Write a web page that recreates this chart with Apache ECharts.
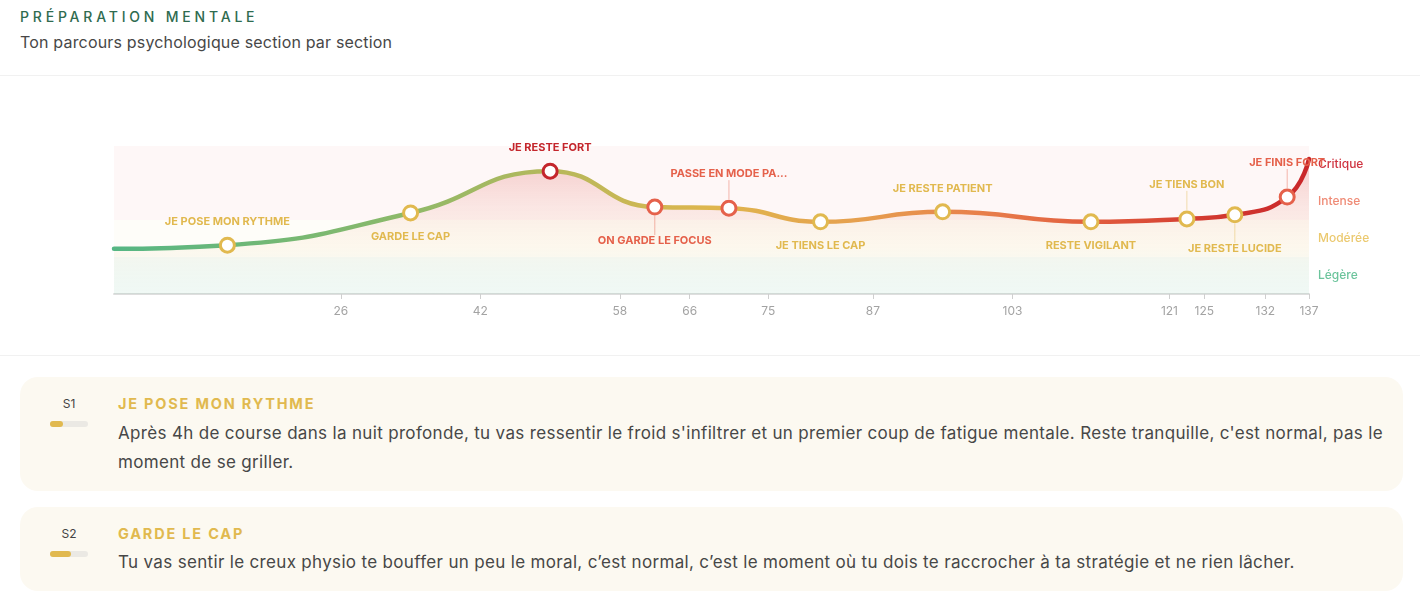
<!DOCTYPE html>
<html>
<head>
<meta charset="utf-8">
<script src="https://cdn.jsdelivr.net/npm/echarts@6/dist/echarts.min.js"></script>
<style>
  html, body { margin: 0; padding: 0; background: #fff; font-family: Inter, "Noto Sans", sans-serif; }
  body { width: 1420px; height: 598px; position: relative; overflow: hidden; }
  .kicker { position: absolute; left: 20px; top: 9px; font-size: 14px; line-height: 16px; letter-spacing: 3.8px; color: #2f6b4f; font-weight: 500; white-space: nowrap; }
  .sub { position: absolute; left: 20px; top: 32px; font-size: 16px; line-height: 20px; letter-spacing: 0.18px; color: #474747; white-space: nowrap; }
  .sep { position: absolute; left: 0; width: 1420px; height: 1px; background: #f1f1f1; }
  #chart { position: absolute; left: 0; top: 76px; width: 1420px; height: 279px; }
  #cards { position: absolute; left: 20px; top: 377px; width: 1383px; }
  .card { background: #fcf9f1; border-radius: 18px; padding: 17px 10px 14px 0; display: flex; margin-bottom: 16px; }
  .col { width: 38px; margin-left: 30px; margin-right: 30px; flex: none; text-align: center; }
  .sid { font-size: 12px; line-height: 20px; color: #444; }
  .track { margin-top: 7px; height: 6px; border-radius: 3px; background: #ebe9e4; position: relative; }
  .fill { position: absolute; left: 0; top: 0; height: 6px; border-radius: 3px; background: #e1b94f; }
  .txt { flex: 1; }
  .ttl { font-size: 14.5px; line-height: 20px; font-weight: 700; letter-spacing: 1.8px; color: #e1b94f; }
  .body { margin-top: 4.5px; font-size: 17px; line-height: 29px; letter-spacing: 0.33px; color: #474747; }
</style>
</head>
<body>
<div class="kicker">PRÉPARATION MENTALE</div>
<div class="sub">Ton parcours psychologique section par section</div>
<div class="sep" style="top:75px"></div>
<div id="chart"></div>
<div class="sep" style="top:355px"></div>
<div id="cards"></div>
<script>
// ---- data ----
const sectionEnds = [26, 42, 58, 66, 75, 87, 103, 121, 125, 132, 137];
const markerKm = [13, 34, 50, 62, 70.5, 81, 95, 112, 123, 128.5, 134.5];
const sectionNames = ['JE POSE MON RYTHME', 'GARDE LE CAP', 'JE RESTE FORT', 'ON GARDE LE FOCUS', 'PASSE EN MODE PA...', 'JE TIENS LE CAP', 'JE RESTE PATIENT', 'RESTE VIGILANT', 'JE TIENS BON', 'JE RESTE LUCIDE', 'JE FINIS FORT'];
const sectionIntensity = [1.32, 2.19, 3.32, 2.35, 2.32, 1.95, 2.22, 1.95, 2.03, 2.14, 2.62];
const sectionLevel = ['moderee', 'moderee', 'critique', 'intense', 'intense', 'moderee', 'moderee', 'moderee', 'moderee', 'moderee', 'intense'];
const startIntensity = 1.22;
const endIntensity = 3.65;
const totalKm = 137;
const levelLabels = ['Légère', 'Modérée', 'Intense', 'Critique'];
const cardIds = ['S1', 'S2'];
const cardTitles = ['JE POSE MON RYTHME', 'GARDE LE CAP'];
const cardTexts = [
  "Après 4h de course dans la nuit profonde, tu vas ressentir le froid s'infiltrer et un premier coup de fatigue mentale. Reste tranquille, c'est normal, pas le moment de se griller.",
  "Tu vas sentir le creux physio te bouffer un peu le moral, c’est normal, c’est le moment où tu dois te raccrocher à ta stratégie et ne rien lâcher."
];

// ---- styles ----
const levelColor = { moderee: '#e1b94f', intense: '#e5614b', critique: '#c4262c' };
const axisLabelColors = ['#6cc49c', '#ebc96f', '#ef8b76', '#cf3441'];

// cards
const cardsEl = document.getElementById('cards');
cardIds.forEach((id, i) => {
  const c = document.createElement('div');
  c.className = 'card';
  const pct = sectionIntensity[i] / 4 * 100;
  c.innerHTML = '<div class="col"><div class="sid">' + id + '</div><div class="track"><div class="fill" style="width:' + pct + '%"></div></div></div>' +
    '<div class="txt"><div class="ttl">' + cardTitles[i] + '</div><div class="body">' + cardTexts[i] + '</div></div>';
  cardsEl.appendChild(c);
});

// chart
const lineData = [[0, startIntensity]];
markerKm.forEach((k, i) => lineData.push([k, sectionIntensity[i]]));
lineData.push([totalKm, endIntensity]);

const sectionStarts = [0].concat(sectionEnds.slice(0, -1));
const markerData = markerKm.map((k, i) => [k, sectionIntensity[i], i]);

const chart = echarts.init(document.getElementById('chart'));
chart.setOption({
  animation: false,
  grid: { left: 114, right: 111, top: 70, bottom: 61 },
  xAxis: {
    type: 'value', min: 0, max: totalKm,
    splitLine: { show: false },
    axisLine: { lineStyle: { color: '#dedede', width: 2 } },
    axisTick: { show: true, customValues: sectionEnds, length: 5, lineStyle: { color: '#cfcfcf', width: 1 } },
    axisLabel: { customValues: sectionEnds, color: '#a3a3a3', fontSize: 12, margin: 11, fontFamily: 'Inter' }
  },
  yAxis: {
    type: 'value', min: 0, max: 4, interval: 0.5, position: 'right',
    splitLine: { show: false }, axisLine: { show: false }, axisTick: { show: false },
    axisLabel: {
      margin: 9, fontSize: 12, fontWeight: 500, fontFamily: 'Inter',
      formatter: function (v) {
        const k = v - 0.5;
        if (Math.abs(k - Math.round(k)) > 1e-6 || k < 0 || k > 3) return '';
        return '{l' + Math.round(k) + '|' + levelLabels[Math.round(k)] + '}';
      },
      rich: {
        l0: { color: axisLabelColors[0], fontSize: 12, fontWeight: 500, fontFamily: 'Inter' },
        l1: { color: axisLabelColors[1], fontSize: 12, fontWeight: 500, fontFamily: 'Inter' },
        l2: { color: axisLabelColors[2], fontSize: 12, fontWeight: 500, fontFamily: 'Inter' },
        l3: { color: axisLabelColors[3], fontSize: 12, fontWeight: 500, fontFamily: 'Inter' }
      }
    }
  },
  series: [
    {
      type: 'line', data: lineData, smooth: 0.5, showSymbol: false, z: 2,
      lineStyle: {
        width: 4.5, cap: 'round',
        color: new echarts.graphic.LinearGradient(0, 0, 1, 0, [
          { offset: 0, color: '#55b684' },
          { offset: 0.22, color: '#86b96c' },
          { offset: 0.36, color: '#b3b85c' },
          { offset: 0.5, color: '#dfb64d' },
          { offset: 0.62, color: '#e6a04f' },
          { offset: 0.72, color: '#e8804c' },
          { offset: 0.82, color: '#e15c3e' },
          { offset: 0.91, color: '#d33b31' },
          { offset: 1, color: '#c9262a' }
        ])
      },
      areaStyle: {
        color: new echarts.graphic.LinearGradient(0, 0, 0, 1, [
          { offset: 0, color: 'rgba(214,60,60,0.34)' },
          { offset: 0.35, color: 'rgba(225,110,90,0.18)' },
          { offset: 0.65, color: 'rgba(240,190,110,0.12)' },
          { offset: 1, color: 'rgba(82,183,136,0.05)' }
        ])
      },
      markArea: {
        silent: true,
        label: { show: false },
        data: [
          [{ yAxis: 0, itemStyle: { color: 'rgba(82,183,136,0.05)' } }, { yAxis: 1 }],
          [{ yAxis: 1, itemStyle: { color: 'rgba(240,200,100,0.04)' } }, { yAxis: 2 }],
          [{ yAxis: 2, itemStyle: { color: 'rgba(230,90,90,0.05)' } }, { yAxis: 4 }]
        ]
      }
    },
    {
      type: 'custom', data: markerData, z: 5, clip: false,
      renderItem: function (params, api) {
        const i = api.value(2);
        const p = api.coord([api.value(0), api.value(1)]);
        const color = levelColor[sectionLevel[i]];
        const above = i % 2 === 0;
        const far = (sectionEnds[i] - sectionStarts[i]) < 10;
        const off = far ? 34 : 23.5;
        const ly = p[1] + (above ? -off : off);
        const children = [];
        if (far) {
          const y1 = p[1] + (above ? -9 : 9);
          const y2 = ly + (above ? 6 : -6);
          children.push({ type: 'line', shape: { x1: p[0], y1: y1, x2: p[0], y2: y2 }, style: { stroke: color, opacity: 0.45, lineWidth: 1 } });
        }
        children.push({ type: 'circle', shape: { cx: p[0], cy: p[1], r: 7 }, style: { fill: '#fff', stroke: color, lineWidth: 3 } });
        children.push({ type: 'text', style: { text: sectionNames[i], x: p[0], y: ly, align: 'center', verticalAlign: 'middle', fill: color, font: 'bold 11px Inter' } });
        return { type: 'group', children: children };
      }
    }
  ]
});
</script>
</body>
</html>
